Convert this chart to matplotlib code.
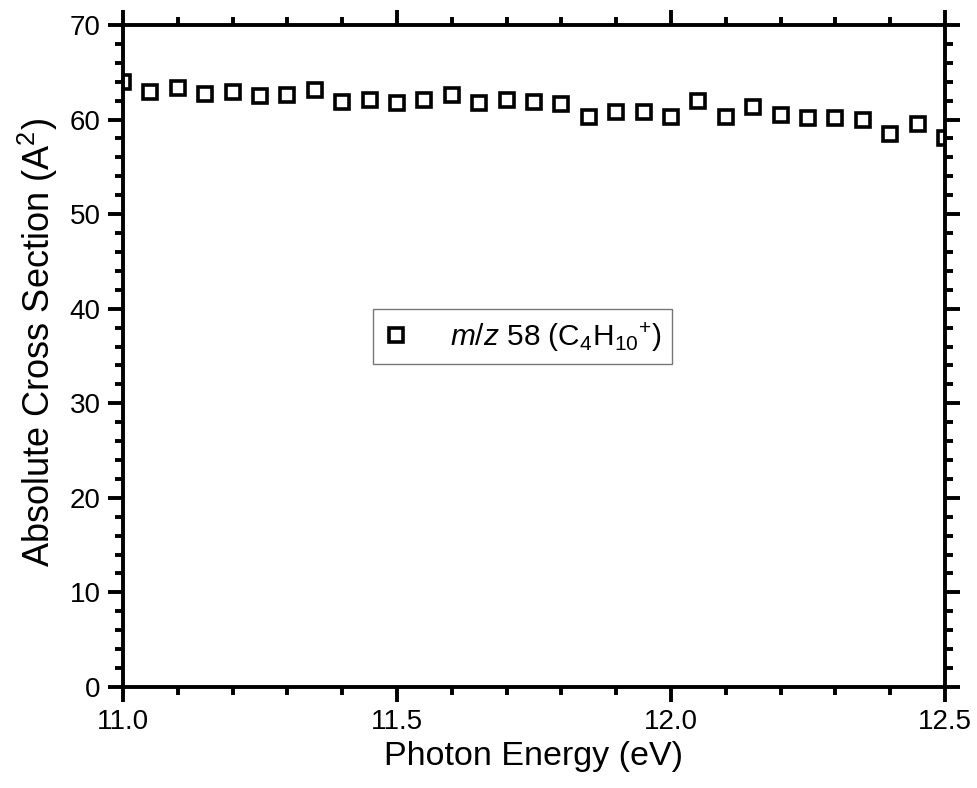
import numpy as np
import matplotlib
matplotlib.use('Agg')
import matplotlib.pyplot as plt
from matplotlib.ticker import MultipleLocator

plt.rcParams['font.family'] = 'Liberation Sans'
plt.rcParams['mathtext.fontset'] = 'custom'
plt.rcParams['mathtext.rm'] = 'Liberation Sans'
plt.rcParams['mathtext.it'] = 'Liberation Sans:italic'

energy = [11.00, 11.05, 11.10, 11.15, 11.20, 11.25, 11.30, 11.35, 11.40, 11.45,
          11.50, 11.55, 11.60, 11.65, 11.70, 11.75, 11.80, 11.85, 11.90, 11.95,
          12.00, 12.05, 12.10, 12.15, 12.20, 12.25, 12.30, 12.35, 12.40, 12.45, 12.50]
cross_section = [64.0, 62.9, 63.3, 62.7, 62.9, 62.5, 62.6, 63.1, 61.9, 62.1,
                 61.7, 62.1, 62.6, 61.8, 62.1, 61.9, 61.6, 60.3, 60.8, 60.8,
                 60.3, 62.0, 60.3, 61.3, 60.5, 60.2, 60.2, 60.0, 58.5, 59.5, 58.1]

fig = plt.figure(figsize=(9.77, 7.88), dpi=100)
ax = fig.add_axes([0.1259, 0.1282, 0.8413, 0.8401])

ax.plot(energy, cross_section, linestyle='none', marker='s', markersize=10.5,
        markerfacecolor='white', markeredgecolor='black', markeredgewidth=2.6,
        label=r'$m/z$ 58 (C$_4$H$_{10}$$^{+}$)')

ax.set_xlim(11.0, 12.5)
ax.set_ylim(0, 70)
ax.xaxis.set_major_locator(MultipleLocator(0.5))
ax.xaxis.set_minor_locator(MultipleLocator(0.1))
ax.yaxis.set_major_locator(MultipleLocator(10))
ax.yaxis.set_minor_locator(MultipleLocator(2))
ax.xaxis.set_major_formatter(plt.FormatStrFormatter('%.1f'))

for s in ax.spines.values():
    s.set_linewidth(2.8)
ax.tick_params(which='both', direction='out', top=True, right=True,
               labeltop=False, labelright=False, width=2.8)
ax.tick_params(which='major', length=11, labelsize=20, pad=5)
ax.tick_params(which='minor', length=5.5)

ax.set_xlabel('Photon Energy (eV)', fontsize=24.5, labelpad=4)
ax.set_ylabel(r'Absolute Cross Section (A$^2$)', fontsize=26)
ax.yaxis.set_label_coords(-0.077, 0.52)

leg = ax.legend(loc='center', bbox_to_anchor=(0.486, 0.529), fontsize=21.5,
                frameon=True, fancybox=False, edgecolor='#555555',
                handlelength=0.8, handletextpad=1.4, borderpad=0.35)
leg.get_frame().set_linewidth(1.0)

fig.savefig('out.png', dpi=100)
